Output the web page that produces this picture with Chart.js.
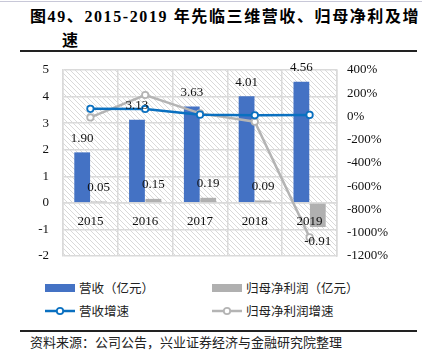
<!DOCTYPE html>
<html>
<head>
<meta charset="utf-8">
<script src="https://cdn.jsdelivr.net/npm/chart.js@4.4.0/dist/chart.umd.min.js"></script>
<style>
  html, body { margin: 0; padding: 0; background: #fff; }
  body { width: 422px; height: 355px; position: relative; overflow: hidden; font-family: "Liberation Serif", "Noto Sans CJK SC", serif; }
  #topline { position: absolute; left: 0; top: 1px; width: 422px; height: 1px; background: #c8c8d8; }
  #title { position: absolute; left: 30px; top: 5px; font-size: 16px; font-weight: bold; line-height: 24px; color: #000; white-space: nowrap; letter-spacing: 1.6px; }
  #title .l2 { padding-left: 32px; }
  #rule1 { position: absolute; left: 20px; top: 50px; width: 397px; height: 2px; background: #222; }
  #wrap { position: absolute; left: 0; top: 55px; width: 422px; height: 215px; }
  .leg { position: absolute; font-size: 12.5px; color: #222; white-space: nowrap; font-family: "Noto Sans CJK SC", sans-serif; line-height: 16px; }
  .sw { position: absolute; }
  #rule2 { position: absolute; left: 20px; top: 330px; width: 397px; height: 1.5px; background: #222; }
  #src { position: absolute; left: 30px; top: 333px; font-size: 13px; color: #222; white-space: nowrap; font-family: "Noto Sans CJK SC", sans-serif; line-height: 17px; }
</style>
</head>
<body>
<div id="topline"></div>
<div id="title">图49、2015-2019 年先临三维营收、归母净利及增<br><span class="l2">速</span></div>
<div id="rule1"></div>
<div id="wrap"><canvas id="c" width="422" height="215"></canvas></div>

<div class="sw" style="left:45px;top:284px;width:30px;height:8px;background:#4472C4"></div>
<div class="leg" style="left:79px;top:280px">营收（亿元）</div>
<div class="sw" style="left:212px;top:284px;width:30px;height:8px;background:#B0B0B0"></div>
<div class="leg" style="left:246px;top:280px">归母净利润（亿元）</div>

<canvas id="lg1" width="32" height="10" style="position:absolute;left:44px;top:306px"></canvas>
<div class="leg" style="left:79px;top:303px">营收增速</div>
<canvas id="lg2" width="32" height="10" style="position:absolute;left:211px;top:306px"></canvas>
<div class="leg" style="left:246px;top:303px">归母净利润增速</div>

<div id="rule2"></div>
<div id="src">资料来源：公司公告，兴业证券经济与金融研究院整理</div>

<script>
const categories = ['2015', '2016', '2017', '2018', '2019'];
const revenue = [1.90, 3.13, 3.63, 4.01, 4.56];
const netProfit = [0.05, 0.15, 0.19, 0.09, -0.91];
const revenueGrowth = [66, 65, 16, 10.5, 13.7];
const profitGrowth = [-8, 185, 27, -45, -1040];
const leftTicks = [-2, -1, 0, 1, 2, 3, 4, 5];
const rightTicks = [-1200, -1000, -800, -600, -400, -200, 0, 200, 400];

const BLUE = '#4472C4', GRAY = '#B0B0B0', LBLUE = '#0A70C0', LGRAY = '#B4B4B4';
const GRID = '#DADADA';

function drawLegendLine(id, color) {
  const c = document.getElementById(id).getContext('2d');
  c.strokeStyle = color; c.lineWidth = 2.5;
  c.beginPath(); c.moveTo(1, 5); c.lineTo(31, 5); c.stroke();
  c.fillStyle = '#fff'; c.lineWidth = 1.8;
  c.beginPath(); c.arc(16, 5, 3.2, 0, Math.PI * 2); c.fill(); c.stroke();
}
drawLegendLine('lg1', LBLUE);
drawLegendLine('lg2', LGRAY);

// hatch pattern
const pc = document.createElement('canvas');
pc.width = 5; pc.height = 5;
const px = pc.getContext('2d');
px.fillStyle = '#fff'; px.fillRect(0, 0, 5, 5);
px.strokeStyle = '#D9D9D9'; px.lineWidth = 1;
px.beginPath(); px.moveTo(-1, -1); px.lineTo(6, 6); px.stroke();
px.beginPath(); px.moveTo(-1, 4); px.lineTo(1, 6); px.stroke();
px.beginPath(); px.moveTo(4, -1); px.lineTo(6, 1); px.stroke();

const hatchPlugin = {
  id: 'hatch',
  beforeDraw(chart) {
    const { ctx, chartArea: a } = chart;
    ctx.save();
    ctx.fillStyle = ctx.createPattern(pc, 'repeat');
    ctx.fillRect(a.left, a.top, a.right - a.left, a.bottom - a.top);
    ctx.restore();
  }
};

const labelPlugin = {
  id: 'barLabels',
  afterDatasetsDraw(chart) {
    const ctx = chart.ctx;
    ctx.save();
    ctx.font = '13px "Liberation Serif", serif';
    ctx.fillStyle = '#111';
    ctx.textAlign = 'center';
    ctx.textBaseline = 'middle';
    [0, 1].forEach(di => {
      const meta = chart.getDatasetMeta(di);
      const vals = chart.data.datasets[di].data;
      meta.data.forEach((el, i) => {
        const v = vals[i];
        const y = v >= 0 ? el.y - 14 : el.y + 15;
        ctx.fillText(v.toFixed(2), el.x, y);
      });
    });
    ctx.restore();
  }
};

function noPad(s) { s.paddingTop = 0; s.paddingBottom = 0; }

new Chart(document.getElementById('c'), {
  data: {
    labels: categories,
    datasets: [
      { type: 'bar', label: '营收（亿元）', data: revenue, backgroundColor: BLUE, yAxisID: 'y', order: 3, categoryPercentage: 0.6, barPercentage: 0.96 },
      { type: 'bar', label: '归母净利润（亿元）', data: netProfit, backgroundColor: GRAY, yAxisID: 'y', order: 3, categoryPercentage: 0.6, barPercentage: 0.96 },
      { type: 'line', label: '营收增速', data: revenueGrowth, yAxisID: 'y1', order: 1, borderColor: LBLUE, borderWidth: 2.5, pointRadius: 3.2, pointBackgroundColor: '#fff', pointBorderColor: LBLUE, pointBorderWidth: 1.8, tension: 0 },
      { type: 'line', label: '归母净利润增速', data: profitGrowth, yAxisID: 'y1', order: 2, borderColor: LGRAY, borderWidth: 2.5, pointRadius: 3.2, pointBackgroundColor: '#fff', pointBorderColor: LGRAY, pointBorderWidth: 1.8, tension: 0 }
    ]
  },
  options: {
    responsive: false,
    animation: false,
    layout: { padding: { top: 15, bottom: 14, left: 0, right: 0 } },
    plugins: { legend: { display: false }, tooltip: { enabled: false } },
    scales: {
      x: {
        position: { y: 0 },
        offset: true,
        grid: { color: GRID, lineWidth: 1.5, offset: true, drawTicks: false },
        border: { color: GRID, width: 1.5 },
        ticks: { color: '#111', font: { family: '"Liberation Serif", serif', size: 13 }, padding: 11, maxRotation: 0, z: 1 },
        afterFit(s) { s.height = 0; s.paddingLeft = 0; s.paddingRight = 0; s.paddingTop = 0; s.paddingBottom = 0; }
      },
      y: {
        position: 'left',
        min: -2, max: 5,
        afterBuildTicks(s) { s.ticks = leftTicks.map(v => ({ value: v })); },
        grid: { color: GRID, lineWidth: 1.5, drawTicks: false },
        border: { color: GRID, width: 1.5 },
        ticks: { color: '#111', font: { family: '"Liberation Serif", serif', size: 13 }, padding: 14 },
        afterFit(s) { s.width = 63; noPad(s); }
      },
      y1: {
        position: 'right',
        min: -1200, max: 400,
        afterBuildTicks(s) { s.ticks = rightTicks.map(v => ({ value: v })); },
        grid: { display: false, drawTicks: false },
        border: { color: GRID, width: 1.5 },
        ticks: { color: '#111', font: { family: '"Liberation Serif", serif', size: 13 }, padding: 10, callback: v => v + '%' },
        afterFit(s) { s.width = 85; noPad(s); }
      }
    }
  },
  plugins: [hatchPlugin, labelPlugin]
});
</script>
</body>
</html>
